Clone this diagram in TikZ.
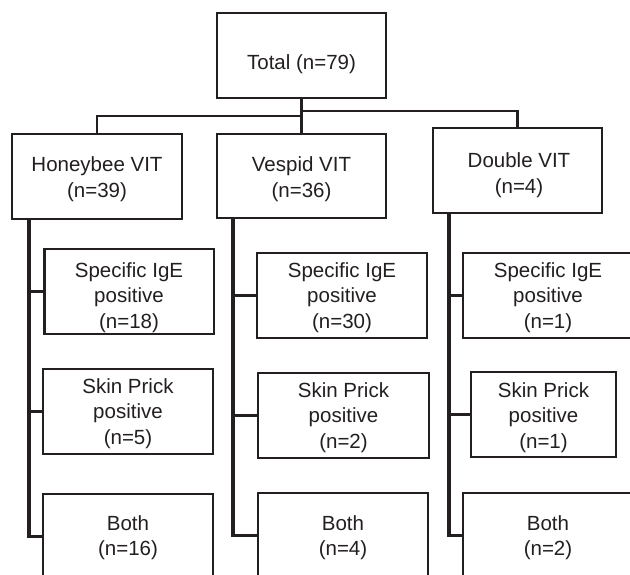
\documentclass[tikz,border=0pt]{standalone}
\usepackage{fontspec}
\setmainfont{Liberation Sans}
\usetikzlibrary{fit}
\definecolor{ink}{HTML}{231F20}
\begin{document}
\begin{tikzpicture}[x=1pt,y=-1pt,
  box/.style={draw=ink, line width=2.1pt, inner sep=0pt},
  txt/.style={align=center, anchor=base, inner sep=0pt, text=ink,
    font=\fontsize{20.5}{25.5}\selectfont},
  conn/.style={draw=ink, line width=2.3pt, line cap=rect},
  vconn/.style={draw=ink, line width=3.2pt, line cap=rect}]
\useasboundingbox (0,0) rectangle (630,575);
\clip (0,0) rectangle (630,575);
\fill[white] (0,0) rectangle (630,575);
% top level
\node[box, fit={(217,13) (386,98)}] (total) {};
\node[box, fit={(12,134) (182,219)}] (honey) {};
\node[box, fit={(217,134) (386,218)}] (vespid) {};
\node[box, fit={(433,128) (602,213)}] (double) {};
% honeybee children
\node[box, fit={(44.5,249) (214,334)}] (hspec) {};
\node[box, fit={(43,369) (213,454)}] (hskin) {};
\node[box, fit={(43,494) (213,579)}] (hboth) {};
% vespid children
\node[box, fit={(257,253) (427,338)}] (vspec) {};
\node[box, fit={(258,373) (429,458)}] (vskin) {};
\node[box, fit={(258,493) (428,578)}] (vboth) {};
% double children
\node[box, fit={(463,253) (633,338)}] (dspec) {};
\node[box, fit={(471,372) (616,457)}] (dskin) {};
\node[box, fit={(463,493) (633,578)}] (dboth) {};
% texts (anchor = baseline of the last line)
\node[txt] (totalT) at (301.5,70) {Total (n=79)};
\node[txt] (honeyT) at (97,197.5) {Honeybee VIT\\(n=39)};
\node[txt] (vespidT) at (301.5,197.5) {Vespid VIT\\(n=36)};
\node[txt] (doubleT) at (519,193.5) {Double VIT\\(n=4)};
\node[txt] (hspecT) at (129,328) {Specific IgE\\positive\\(n=18)};
\node[txt] (vspecT) at (342,328) {Specific IgE\\positive\\(n=30)};
\node[txt] (dspecT) at (548,328) {Specific IgE\\positive\\(n=1)};
\node[txt] (hskinT) at (128,444) {Skin Prick\\positive\\(n=5)};
\node[txt] (vskinT) at (343.5,448) {Skin Prick\\positive\\(n=2)};
\node[txt] (dskinT) at (543.5,448) {Skin Prick\\positive\\(n=1)};
\node[txt] (hbothT) at (128,555.5) {Both\\(n=16)};
\node[txt] (vbothT) at (343,555.5) {Both\\(n=4)};
\node[txt] (dbothT) at (548,555.5) {Both\\(n=2)};
% top connectors
\coordinate (lbar) at (301.5,116);
\coordinate (rbar) at (301.5,111);
\draw[conn] (total.south) -- (vespid.north);
\draw[conn] (lbar) -| (honey.north);
\draw[conn] (rbar) -| (double.north);
% child rails
\coordinate (hv) at (29,0);
\coordinate (vv) at (233,0);
\coordinate (dv) at (449,0);
\draw[vconn] (honey.south -| hv) -- (hboth.west -| hv);
\draw[vconn] (vespid.south -| vv) -- (vboth.west -| vv);
\draw[vconn] (double.south -| dv) -- (dboth.west -| dv);
\foreach \n/\r in {hspec/hv,hskin/hv,hboth/hv,vspec/vv,vskin/vv,vboth/vv,dspec/dv,dskin/dv,dboth/dv}
  \draw[conn] (\n.west -| \r) -- (\n.west);
\end{tikzpicture}
\end{document}
